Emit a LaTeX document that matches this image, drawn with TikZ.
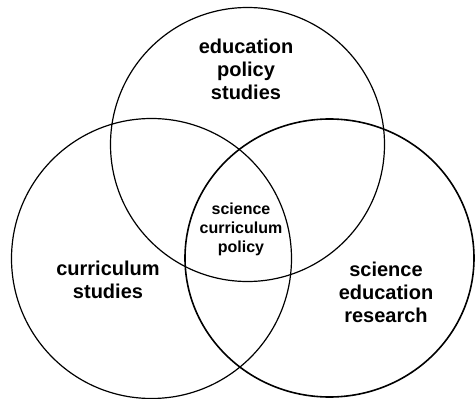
\documentclass[tikz,border=0pt]{standalone}
\usepackage{fontspec}
\setmainfont{Liberation Sans}
\usetikzlibrary{shapes.geometric}
\tikzset{
  ring/.style={draw=black, line width=1.2pt, circle, inner sep=0pt},
  bigring/.style={draw=black, line width=1.6pt, ellipse, inner sep=0pt},
  field/.style={align=center, font=\fontsize{20}{23}\selectfont\bfseries},
  core/.style={align=center, font=\fontsize{16}{19}\selectfont\bfseries},
}

\begin{document}
\begin{tikzpicture}[x=1pt,y=-1pt]
  \path[use as bounding box] (0,0) rectangle (475,399);

  % the three overlapping fields
  \node[ring, minimum size=274pt] (policyring) at (247.5,144.5) {};
  \node[ring, minimum size=280pt] (curricring) at (151.5,258.5) {};
  \node[bigring, minimum width=289pt, minimum height=278pt] (researchring) at (329.5,258) {};

  % labels
  \node[field] (policy) at (246,69) {education\\policy\\studies};
  \node[field] (curric) at (108,280) {curriculum\\studies};
  \node[field] (research) at (386,292) {science\\education\\research};
  \node[core] (scp) at (241,229) {science\\curriculum\\policy};
\end{tikzpicture}
\end{document}
